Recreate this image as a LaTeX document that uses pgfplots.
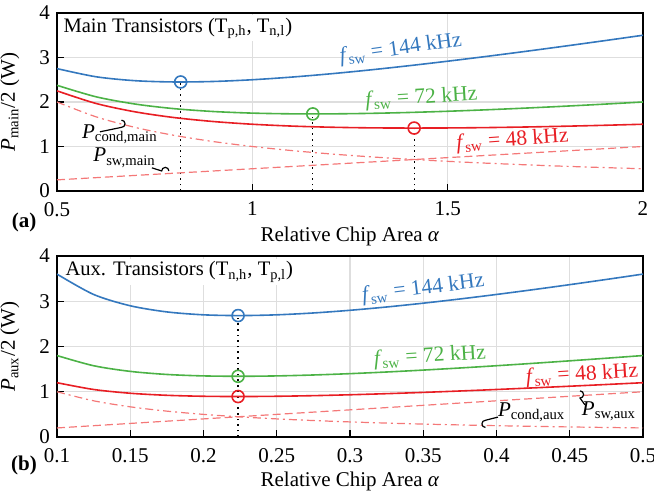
\documentclass[border=0pt]{standalone}
\usepackage{pgfplots}
\pgfplotsset{compat=1.18}
\usepackage{fontspec}
\setmainfont{Liberation Serif}
\definecolor{cblue}{RGB}{52,120,190}
\definecolor{cgreen}{RGB}{76,178,70}
\definecolor{cred}{RGB}{232,30,36}
\definecolor{cpink}{RGB}{244,120,120}
\tikzset{flab/.style={font=\fontsize{10.8}{13}\selectfont}}
\pgfplotsset{
  myax/.style={
    scale only axis, anchor=south west,
    width=293pt,
    ymin=0, ymax=4, ytick={0,1,2,3,4},
    axis line style={line width=0.75pt},
    grid=major, major grid style={black!13, line width=0.6pt},
    tick align=inside, tick pos=left, major tick length=3.5pt,
    tick style={black, line width=0.6pt},
    /pgf/number format/assume math mode=true,
    xticklabel={\pgfmathprintnumber{\tick}},
    yticklabel={\pgfmathprintnumber{\tick}},
    ticklabel style={font=\fontsize{10.5}{12}\selectfont},
    xticklabel style={yshift=-2pt},
    label style={font=\fontsize{10.5}{12}\selectfont},
    ylabel style={at={(axis description cs:-0.052,0.5)}, anchor=south},
    every axis plot/.append style={line width=0.8pt},
  },
  circ/.style={only marks, mark=o, mark size=3pt, mark options={fill=white, line width=0.8pt}},
  vline/.style={black, dotted, line width=0.6pt, forget plot},
}
\begin{document}
\begin{tikzpicture}
\path[use as bounding box] (0,0) rectangle (327pt,246.5pt);
% ---------------- (a)
\begin{axis}[myax, at={(28.5pt,151pt)}, height=89pt,
  xmin=0.5, xmax=2, xtick={0.5,1,1.5,2},
  xlabel={Relative Chip Area \textit{α}},
  xlabel style={at={(axis description cs:0.5,-0.16)}, anchor=north},
  ylabel={\textit{P}\textsubscript{main}/2 (W)}]
\node[fill=white, inner sep=1.5pt, anchor=west, font=\fontsize{10.3}{12}\selectfont] at (axis cs:0.508,3.66) {Main Transistors (T\textsubscript{p,h}, T\textsubscript{n,l})};
\addplot[vline] coordinates {(0.8165,0) (0.8165,2.4495)};
\addplot[vline] coordinates {(1.1547,0) (1.1547,1.7321)};
\addplot[vline] coordinates {(1.4142,0) (1.4142,1.4142)};
% cond (48 kHz)
\addplot[cpink, dash pattern=on 4pt off 2pt on 1pt off 2pt, line width=0.6pt, smooth] coordinates {
(0.5,2.0) (0.6,1.6667) (0.7,1.4286) (0.8,1.25) (0.9,1.1111) (1.0,1.0) (1.1,0.9091) (1.2,0.8333) (1.3,0.7692) (1.4,0.7143) (1.5,0.6667) (1.6,0.625) (1.7,0.5882) (1.8,0.5556) (1.9,0.5263) (2.0,0.5)};
% sw (48 kHz)
\addplot[cpink, dash pattern=on 4pt off 2pt, line width=0.6pt] coordinates {
(0.5,0.25) (1.0,0.5) (1.5,0.75) (2.0,1.0)};
% totals
\addplot[cred, smooth] coordinates {
(0.5,2.25) (0.6,1.9667) (0.7,1.7786) (0.8,1.65) (0.9,1.5611) (1.0,1.5) (1.1,1.4591) (1.2,1.4333) (1.3,1.4192) (1.4,1.4143) (1.5,1.4167) (1.6,1.425) (1.7,1.4382) (1.8,1.4556) (1.9,1.4763) (2.0,1.5)};
\addplot[cgreen, smooth] coordinates {
(0.5,2.375) (0.6,2.1167) (0.7,1.9536) (0.8,1.85) (0.9,1.7861) (1.0,1.75) (1.1,1.7341) (1.2,1.7333) (1.3,1.7442) (1.4,1.7643) (1.5,1.7917) (1.6,1.825) (1.7,1.8632) (1.8,1.9056) (1.9,1.9513) (2.0,2.0)};
\addplot[cblue, smooth] coordinates {
(0.5,2.75) (0.6,2.5667) (0.7,2.4786) (0.8,2.45) (0.9,2.4611) (1.0,2.5) (1.1,2.5591) (1.2,2.6333) (1.3,2.7192) (1.4,2.8143) (1.5,2.9167) (1.6,3.025) (1.7,3.1382) (1.8,3.2556) (1.9,3.3763) (2.0,3.5)};
\addplot[circ, cblue] coordinates {(0.8165,2.4495)};
\addplot[circ, cgreen] coordinates {(1.1547,1.7321)};
\addplot[circ, cred] coordinates {(1.4142,1.4142)};
% labels
\node[cblue, rotate=8, flab] at (axis cs:1.38,3.19) {\textit{f}\textsubscript{sw} = 144 kHz};
\node[cgreen, rotate=3.5, flab] at (axis cs:1.433,2.09) {\textit{f}\textsubscript{sw} = 72 kHz};
\node[cred, rotate=4, flab] at (axis cs:1.666,1.14) {\textit{f}\textsubscript{sw} = 48 kHz};
\node[font=\fontsize{10.5}{12}\selectfont] at (axis cs:0.661,1.27) {\textit{P}\textsubscript{cond,main}};
\node[font=\fontsize{10.5}{12}\selectfont] at (axis cs:0.673,0.75) {\textit{P}\textsubscript{sw,main}};
\draw[line width=0.6pt] (axis cs:0.61,1.33) -- (axis cs:0.665,1.43) arc[start angle=-90, end angle=90, radius=1.8pt];
\draw[line width=0.6pt] (axis cs:0.743,0.52) -- (axis cs:0.768,0.45) arc[start angle=180, end angle=0, radius=1.8pt];
\end{axis}
\node[font=\bfseries\fontsize{10.5}{12}\selectfont] at (12pt,135.5pt) {(a)};
% ---------------- (b)
\begin{axis}[myax, at={(28.5pt,28pt)}, height=90.5pt,
  xmin=0.1, xmax=0.5, xtick={0.1,0.15,0.2,0.25,0.3,0.35,0.4,0.45,0.5},
  xlabel={Relative Chip Area \textit{α}},
  xlabel style={at={(axis description cs:0.5,-0.155)}, anchor=north},
  ylabel={\textit{P}\textsubscript{aux}/2 (W)}]
\node[fill=white, inner sep=1.5pt, anchor=west, font=\fontsize{10.3}{12}\selectfont] at (axis cs:0.1035,3.65) {Aux. Transistors (T\textsubscript{n,h}, T\textsubscript{p,l})};
\addplot[vline] coordinates {(0.2236,0) (0.2236,2.6833)};
\addplot[cpink, dash pattern=on 4pt off 2pt on 1pt off 2pt, line width=0.6pt, smooth] coordinates {
(0.1,1.0) (0.125,0.8) (0.15,0.6667) (0.175,0.5714) (0.2,0.5) (0.225,0.4444) (0.25,0.4) (0.275,0.3636) (0.3,0.3333) (0.325,0.3077) (0.35,0.2857) (0.375,0.2667) (0.4,0.25) (0.425,0.2353) (0.45,0.2222) (0.475,0.2105) (0.5,0.2)};
\addplot[cpink, dash pattern=on 4pt off 2pt, line width=0.6pt] coordinates {
(0.1,0.2) (0.3,0.6) (0.5,1.0)};
\addplot[cred, smooth] coordinates {
(0.1,1.2) (0.125,1.05) (0.15,0.9667) (0.175,0.9214) (0.2,0.9) (0.225,0.8944) (0.25,0.9) (0.275,0.9136) (0.3,0.9333) (0.325,0.9577) (0.35,0.9857) (0.375,1.0167) (0.4,1.05) (0.425,1.0853) (0.45,1.1222) (0.475,1.1605) (0.5,1.2)};
\addplot[cgreen, smooth] coordinates {
(0.1,1.8) (0.125,1.575) (0.15,1.45) (0.175,1.3821) (0.2,1.35) (0.225,1.3417) (0.25,1.35) (0.275,1.3705) (0.3,1.4) (0.325,1.4365) (0.35,1.4786) (0.375,1.525) (0.4,1.575) (0.425,1.6279) (0.45,1.6833) (0.475,1.7408) (0.5,1.8)};
\addplot[cblue, smooth] coordinates {
(0.1,3.6) (0.125,3.15) (0.15,2.9) (0.175,2.7643) (0.2,2.7) (0.225,2.6833) (0.25,2.7) (0.275,2.7409) (0.3,2.8) (0.325,2.8731) (0.35,2.9571) (0.375,3.05) (0.4,3.15) (0.425,3.2559) (0.45,3.3667) (0.475,3.4816) (0.5,3.6)};
\addplot[circ, cblue] coordinates {(0.2236,2.6833)};
\addplot[circ, cgreen] coordinates {(0.2236,1.3416)};
\addplot[circ, cred] coordinates {(0.2236,0.8944)};
\node[cblue, rotate=7, flab] at (axis cs:0.35,3.27) {\textit{f}\textsubscript{sw} = 144 kHz};
\node[cgreen, rotate=3.5, flab] at (axis cs:0.3546,1.77) {\textit{f}\textsubscript{sw} = 72 kHz};
\node[cred, rotate=3.5, flab] at (axis cs:0.4584,1.37) {\textit{f}\textsubscript{sw} = 48 kHz};
\node[font=\fontsize{10.5}{12}\selectfont] at (axis cs:0.424,0.55) {\textit{P}\textsubscript{cond,aux}};
\node[font=\fontsize{10.5}{12}\selectfont] at (axis cs:0.4768,0.575) {\textit{P}\textsubscript{sw,aux}};
\draw[line width=0.6pt] (axis cs:0.401,0.44) -- (axis cs:0.3925,0.37) arc[start angle=90, end angle=270, radius=1.8pt];
\draw[line width=0.6pt] (axis cs:0.4604,0.71) -- (axis cs:0.457,0.86) arc[start angle=-90, end angle=90, radius=1.8pt];
\end{axis}
\node[font=\bfseries\fontsize{10.5}{12}\selectfont] at (12pt,14pt) {(b)};
\end{tikzpicture}
\end{document}
